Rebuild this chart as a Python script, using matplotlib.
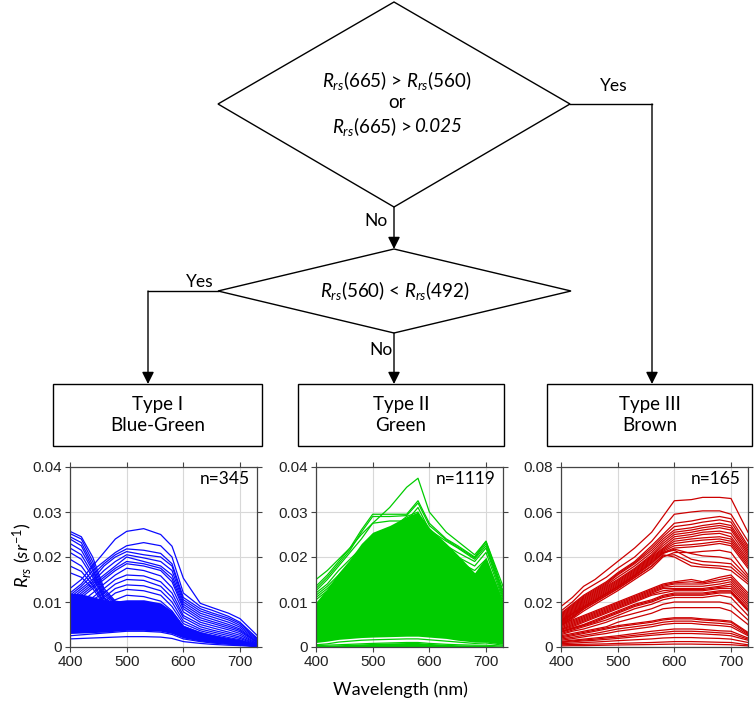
import matplotlib
matplotlib.use("Agg")
import matplotlib.pyplot as plt
from matplotlib.patches import Polygon, Rectangle

plt.rcParams['font.family'] = ['Lato', 'DejaVu Sans']
plt.rcParams['mathtext.fontset'] = 'custom'
plt.rcParams['mathtext.rm'] = 'Lato'
plt.rcParams['mathtext.it'] = 'Lato:italic'

# wavelength grid (nm) the spectra were read at
wl = [400, 420, 440, 460, 480, 500, 530, 560, 580, 600, 630, 650, 680, 700, 730]

# Type I (blue-green) spectra
blue_peak = [
    [.013, .015, .018, .021, .024, .0257, .0263, .025, .0224, .0153, .0097, .0088, .0075, .0063, .0026],
    [.012, .014, .017, .019, .021, .0225, .0232, .0225, .020, .012, .009, .0082, .0068, .0055, .002],
    [.0115, .0135, .016, .0185, .0205, .0218, .0215, .0208, .0185, .011, .0085, .0076, .0064, .0052, .0018],
    [.011, .013, .015, .018, .020, .0212, .0205, .020, .018, .0105, .008, .0072, .006, .0048, .0016],
    [.0105, .0125, .0145, .017, .019, .0205, .0198, .019, .017, .010, .0075, .0067, .0055, .0044, .0014],
    [.010, .012, .014, .016, .018, .020, .019, .018, .016, .0095, .007, .0062, .005, .004, .0012],
    [.0095, .0115, .0135, .0155, .0175, .019, .0185, .0175, .0152, .009, .0065, .0057, .0046, .0037, .0011],
    [.009, .011, .013, .015, .017, .0185, .018, .017, .0145, .0085, .006, .0053, .0042, .0034, .001],
    [.0085, .010, .012, .014, .016, .0175, .017, .0158, .0132, .0078, .0055, .0048, .0038, .003, .0008],
    [.008, .0095, .011, .013, .015, .016, .0158, .0145, .012, .007, .005, .0043, .0033, .0026, .0007],
    [.0075, .009, .0105, .012, .014, .015, .0148, .0135, .011, .0065, .0045, .0038, .0029, .0022, .0006],
    [.007, .0085, .010, .011, .013, .0138, .0136, .0125, .010, .0058, .004, .0034, .0025, .0019, .0005],
    [.0065, .008, .009, .010, .012, .0128, .0125, .0115, .009, .0052, .0036, .003, .0021, .0016, .0004],
    [.006, .007, .008, .009, .0105, .0115, .0112, .0102, .008, .0046, .0032, .0026, .0018, .0013, .0003],
]
blue_decline = [
    [.0257, .0245, .020, .013, .0102, .0098, .0094, .0088, .0075, .0045, .003, .0025, .0018, .0014, .0004],
    [.0252, .024, .019, .0125, .010, .0095, .0091, .0085, .0072, .0043, .0029, .0024, .0017, .0013, .0004],
    [.0245, .0232, .0182, .012, .0098, .0092, .0088, .0082, .0069, .0041, .0028, .0023, .0016, .0012, .0003],
    [.024, .0225, .0175, .0115, .0096, .009, .0085, .0078, .0066, .0039, .0026, .0021, .0015, .0011, .0003],
    [.023, .0215, .017, .011, .0093, .0087, .0082, .0075, .0063, .0037, .0025, .002, .0014, .001, .0003],
    [.022, .0205, .0162, .0108, .009, .0084, .0079, .0072, .006, .0035, .0024, .0019, .0013, .001, .0002],
    [.021, .0195, .0155, .0105, .0088, .0081, .0076, .0069, .0057, .0033, .0022, .0017, .0012, .0009, .0002],
    [.0195, .018, .0145, .010, .0085, .0078, .0072, .0065, .0054, .0031, .0021, .0016, .0011, .0008, .0002],
    [.018, .0168, .0138, .0098, .0083, .0075, .0069, .0062, .0051, .0029, .002, .0015, .001, .0007, .0002],
    [.0165, .0155, .013, .0095, .008, .0072, .0066, .0058, .0048, .0027, .0018, .0014, .0009, .0006, .0001],
]
blue_low = [
    [.0045, .0048, .005, .0052, .0055, .0058, .0058, .0055, .0045, .0028, .002, .0016, .0011, .0008, .0002],
    [.0025, .0027, .0029, .0031, .0033, .0035, .0035, .0033, .0028, .0018, .0012, .0009, .0006, .0005, .0001],
    [.0018, .0019, .002, .0021, .0022, .0023, .0023, .0022, .0019, .0012, .0008, .0006, .0004, .0003, .0001],
]
blue_dense_top = [.012, .0118, .0112, .0105, .0102, .0105, .0105, .0098, .008, .0048, .0034, .0028, .002, .0015, .0005]
blue_dense_bot = [.003, .0031, .0032, .0033, .0035, .0037, .0037, .0035, .003, .002, .0013, .001, .0007, .0005, .0001]

# Type II (green) spectra
green_top = [
    [.015, .017, .0195, .022, .025, .0275, .031, .0355, .0375, .030, .0255, .0235, .0205, .0235, .0135],
    [.0135, .016, .019, .022, .026, .0295, .0295, .0295, .0325, .0275, .024, .0225, .020, .0235, .0125],
    [.013, .0155, .0185, .0215, .0255, .029, .029, .0292, .032, .027, .0238, .0222, .0198, .023, .012],
    [.0125, .015, .018, .021, .024, .0275, .028, .028, .031, .026, .0235, .022, .0195, .0225, .0115],
    [.012, .014, .017, .0195, .022, .025, .0265, .027, .0295, .025, .0225, .021, .019, .022, .011],
    [.0115, .0135, .016, .0185, .021, .0235, .025, .027, .0285, .024, .0215, .020, .018, .021, .0105],
    [.011, .013, .0155, .018, .0205, .023, .026, .029, .030, .024, .021, .019, .017, .0195, .010],
    [.0105, .0125, .015, .017, .019, .0215, .024, .027, .028, .0235, .020, .018, .016, .018, .0095],
]
green_low = [
    [.0005, .0007, .0011, .0013, .0015, .0016, .0017, .0018, .0018, .0016, .0013, .0011, .0008, .0009, .0004],
    [.0003, .0004, .0005, .0006, .0007, .0008, .0009, .001, .001, .0008, .0006, .0005, .0004, .0004, .0002],
]
green_dense_top = [.010, .013, .0165, .0195, .023, .0255, .027, .029, .030, .0265, .023, .0205, .0165, .020, .010]
green_dense_bot = [.001, .0013, .0017, .0019, .0021, .0022, .0023, .0024, .0024, .0022, .0019, .0015, .0011, .0011, .0006]

# Type III (brown) spectra
red_high = [
    [.018, .022, .027, .030, .034, .038, .044, .051, .058, .065, .0655, .0665, .0665, .066, .051],
    [.016, .020, .025, .028, .031, .035, .040, .047, .053, .059, .060, .0605, .0605, .059, .047],
    [.015, .019, .023, .026, .029, .033, .038, .045, .050, .055, .056, .057, .058, .057, .045],
    [.0145, .0185, .0225, .0255, .0285, .0325, .0375, .044, .049, .0535, .0545, .0555, .0565, .0555, .044],
    [.014, .018, .022, .025, .028, .032, .037, .043, .048, .052, .053, .054, .055, .054, .043],
    [.0135, .0175, .0215, .0245, .0275, .031, .036, .042, .047, .051, .052, .053, .054, .053, .042],
    [.013, .017, .021, .024, .027, .030, .035, .041, .046, .050, .051, .052, .053, .052, .041],
    [.0125, .0165, .0205, .0235, .0265, .0295, .0345, .0405, .045, .049, .050, .051, .0515, .0505, .040],
    [.012, .016, .020, .023, .026, .029, .034, .040, .044, .048, .049, .050, .0505, .049, .039],
    [.0118, .0155, .0195, .0225, .0255, .0285, .0335, .0395, .0435, .047, .048, .0485, .049, .048, .038],
    [.0115, .015, .019, .022, .025, .028, .033, .039, .043, .046, .047, .0475, .048, .047, .037],
    [.0112, .0148, .0185, .0215, .0245, .0275, .0325, .0385, .0425, .045, .0455, .046, .047, .046, .036],
    [.011, .0145, .018, .021, .024, .027, .032, .038, .042, .044, .0445, .045, .046, .045, .035],
    [.0108, .014, .0178, .0208, .0238, .0268, .0318, .0375, .0415, .0435, .0415, .0405, .040, .039, .031],
    [.0105, .0135, .0175, .0205, .0235, .0265, .0315, .037, .042, .043, .039, .038, .0375, .037, .030],
    [.010, .0132, .0168, .0198, .0228, .0258, .0308, .036, .0405, .041, .0375, .0365, .036, .0355, .029],
    [.010, .013, .017, .020, .023, .026, .031, .036, .041, .040, .036, .0355, .035, .034, .028],
    [.0095, .0125, .016, .019, .022, .025, .030, .035, .040, .042, .042, .0425, .043, .042, .032],
]
red_mid = [
    [.010, .012, .014, .016, .018, .020, .023, .026, .028, .029, .030, .029, .031, .032, .024],
    [.0095, .0115, .0135, .0155, .0175, .0195, .0225, .0255, .0275, .0285, .029, .0285, .030, .031, .023],
    [.009, .011, .013, .015, .017, .019, .022, .025, .027, .028, .028, .028, .029, .030, .022],
    [.0085, .0105, .0125, .0145, .0165, .0185, .0215, .0245, .0265, .027, .027, .027, .028, .029, .021],
    [.008, .010, .012, .014, .016, .018, .021, .024, .026, .026, .026, .026, .027, .028, .020],
    [.0078, .0095, .0115, .0135, .0155, .0175, .0205, .0235, .025, .0255, .0255, .0255, .0265, .027, .019],
    [.0075, .009, .011, .013, .015, .017, .020, .023, .024, .025, .025, .025, .026, .026, .018],
    [.007, .0085, .010, .012, .014, .016, .019, .021, .023, .024, .024, .024, .025, .025, .017],
    [.0068, .0083, .0098, .0115, .0135, .0155, .0185, .0205, .0225, .0235, .0235, .0235, .0245, .0245, .0165],
    [.0065, .008, .0095, .011, .013, .015, .018, .020, .022, .023, .023, .023, .024, .024, .016],
    [.006, .0075, .009, .0105, .012, .014, .017, .019, .021, .022, .022, .022, .023, .022, .014],
    [.0055, .007, .008, .0095, .011, .013, .015, .017, .019, .020, .020, .020, .020, .019, .012],
    [.005, .006, .007, .008, .009, .011, .013, .015, .017, .0175, .0175, .0175, .0175, .016, .010],
]
red_low = [
    [.0045, .0055, .0065, .0075, .0085, .0095, .0105, .0115, .0125, .013, .013, .0125, .012, .0115, .0065],
    [.004, .005, .006, .007, .008, .009, .010, .011, .012, .0125, .0125, .012, .0115, .011, .006],
    [.0035, .0043, .0052, .006, .007, .008, .009, .010, .011, .0115, .0115, .011, .0105, .010, .0055],
    [.003, .0037, .0045, .0053, .006, .007, .008, .009, .010, .0105, .0105, .010, .0095, .009, .005],
    [.0025, .003, .0035, .004, .0045, .005, .006, .007, .0075, .008, .008, .0078, .0072, .007, .004],
    [.0022, .0027, .0031, .0035, .004, .0044, .0052, .006, .0065, .007, .007, .0068, .0063, .006, .0035],
    [.002, .0023, .0027, .003, .0034, .0038, .0045, .0052, .0056, .006, .006, .0058, .0054, .005, .003],
    [.0015, .0017, .002, .0022, .0025, .0028, .0032, .0036, .004, .0042, .0042, .004, .0038, .0035, .002],
    [.001, .0011, .0012, .0013, .0014, .0016, .0018, .002, .0022, .0024, .0024, .0023, .0021, .002, .001],
    [.0005, .0006, .0006, .0007, .0008, .0009, .001, .0011, .0012, .0013, .0013, .0012, .0011, .001, .0005],
]

type_labels = ["Type I\nBlue-Green", "Type II\nGreen", "Type III\nBrown"]
n_labels = ["n=345", "n=1119", "n=165"]
y_max = [0.04, 0.04, 0.08]
y_ticks = [[0, 0.01, 0.02, 0.03, 0.04], [0, 0.01, 0.02, 0.03, 0.04], [0, 0.02, 0.04, 0.06, 0.08]]
y_ticklabels = [["0", "0.01", "0.02", "0.03", "0.04"], ["0", "0.01", "0.02", "0.03", "0.04"],
                ["0", "0.02", "0.04", "0.06", "0.08"]]

BLUE = "#0a0aff"
GREEN = "#00cc00"
RED = "#cc0000"

W, H = 754, 704
fig = plt.figure(figsize=(W / 100, H / 100), dpi=100)

# ---------------- flow chart (drawn in pixel coordinates) ----------------
fc = fig.add_axes([0, 0, 1, 1])
fc.set_xlim(0, W)
fc.set_ylim(H, 0)
fc.axis("off")

lw = 1.0
fc.add_patch(Polygon([(394, 2), (570, 104), (394, 207), (218, 104)], closed=True,
                     fill=False, ec="black", lw=lw))
fc.add_patch(Polygon([(394, 249), (571, 291), (394, 333), (218, 291)], closed=True,
                     fill=False, ec="black", lw=lw))

boxes = [(53, 262), (298, 504), (547, 752)]
for (x0, x1), lab in zip(boxes, type_labels):
    fc.add_patch(Rectangle((x0, 384), x1 - x0, 62, fill=False, ec="black", lw=lw))
    fc.text((x0 + x1) / 2, 415, lab, ha="center", va="center", fontsize=13.5,
            linespacing=1.3)


def arrow(x0, y0, x1, y1):
    fc.annotate("", xy=(x1, y1), xytext=(x0, y0),
                arrowprops=dict(arrowstyle="-|>,head_length=0.6,head_width=0.3",
                                color="black", lw=lw, shrinkA=0, shrinkB=0,
                                mutation_scale=12))


arrow(394, 207, 394, 249)
arrow(394, 333, 394, 384)
fc.plot([218, 148], [291, 291], color="black", lw=lw)
arrow(148, 291, 148, 384)
fc.plot([570, 652], [104, 104], color="black", lw=lw)
arrow(652, 104, 652, 384)

fs = 13.5
fc.text(376, 221, "No", ha="center", va="center", fontsize=12.5)
fc.text(381, 350, "No", ha="center", va="center", fontsize=12.5)
fc.text(200, 282, "Yes", ha="center", va="center", fontsize=12.5)
fc.text(614, 86, "Yes", ha="center", va="center", fontsize=12.5)

fc.text(397, 81, r"$R_{rs}$(665) > $R_{rs}$(560)", ha="center", va="center", fontsize=fs)
fc.text(397, 103, "or", ha="center", va="center", fontsize=fs)
fc.text(395, 290, r"$R_{rs}$(560) < $R_{rs}$(492)", ha="center", va="center", fontsize=fs)

# third line: the threshold is in italics, so it is set as two pieces
renderer = fig.canvas.get_renderer()
t1 = fc.text(0, 127, r"$R_{rs}$(665) > ", ha="left", va="center", fontsize=fs)
t2 = fc.text(0, 127, "0.025", ha="left", va="center", fontsize=fs, style="italic")
w1 = t1.get_window_extent(renderer).width
w2 = t2.get_window_extent(renderer).width
x_start = 397 - (w1 + w2) / 2
t1.set_x(x_start)
t2.set_x(x_start + w1)

# ---------------- spectra panels ----------------
lefts = [70, 316, 561]
panel_w = 187
axes = []
for left in lefts:
    ax = fig.add_axes([left / W, (H - 647) / H, panel_w / W, 180 / H])
    axes.append(ax)

line_kw = dict(lw=0.9)

ax = axes[0]
ax.fill_between(wl, blue_dense_bot, blue_dense_top, color=BLUE, lw=0)
for s in blue_low + blue_decline + blue_peak:
    ax.plot(wl, s, color=BLUE, **line_kw)

ax = axes[1]
ax.fill_between(wl, 0, green_low[1], color=GREEN, lw=0)
ax.fill_between(wl, green_dense_bot, green_dense_top, color=GREEN, lw=0)
for s in green_low + green_top:
    ax.plot(wl, s, color=GREEN, **line_kw)

ax = axes[2]
for s in red_low + red_mid + red_high:
    ax.plot(wl, s, color=RED, **line_kw)

for i, ax in enumerate(axes):
    ax.set_xlim(400, 730)
    ax.set_ylim(0, y_max[i])
    ax.set_xticks([400, 500, 600, 700])
    ax.set_xticklabels(["400", "500", "600", "700"], family="Liberation Sans")
    ax.set_yticks(y_ticks[i])
    ax.set_yticklabels(y_ticklabels[i], family="Liberation Sans")
    ax.tick_params(direction="out", length=3.5, width=0.8, labelsize=11,
                   top=True, right=True, color="#444444", labelcolor="#222222", pad=2)
    ax.grid(True, color="#d8d8d8", lw=0.8)
    ax.set_axisbelow(True)
    for sp in ax.spines.values():
        sp.set_color("#444444")
        sp.set_linewidth(0.9)
    ax.text(0.96, 0.935, n_labels[i], transform=ax.transAxes, ha="right", va="center",
            fontsize=12.5)

fig.text(22 / W, 1 - 555 / H, r"$R_{rs}\ (sr^{-1})$", rotation=90, ha="center",
         va="center", fontsize=13)
fig.text(400 / W, 1 - 690 / H, "Wavelength (nm)", ha="center", va="center", fontsize=13)

fig.savefig("out.png", dpi=100)
